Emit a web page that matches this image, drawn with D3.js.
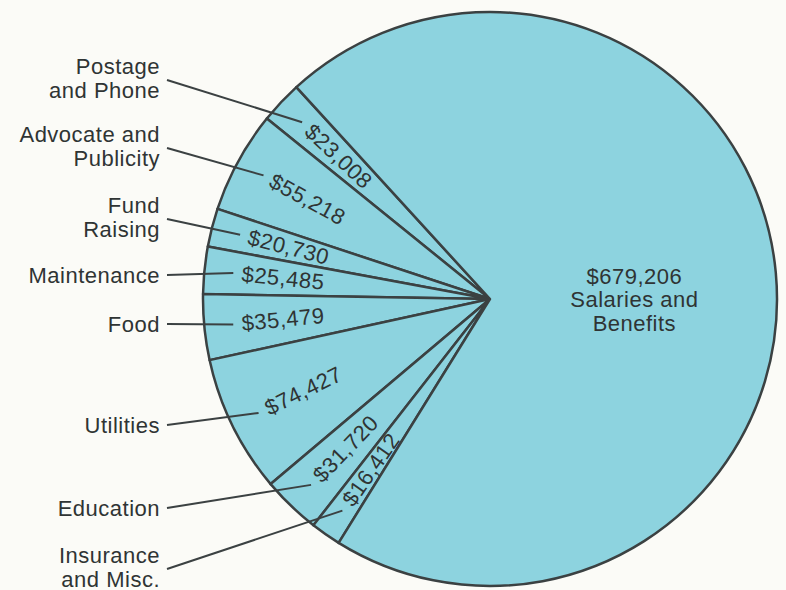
<!DOCTYPE html>
<html>
<head>
<meta charset="utf-8">
<script src="https://cdn.jsdelivr.net/npm/d3@7"></script>
<style>
  body { margin: 0; background: #fbfbf7; }
  svg text { font-family: "Liberation Sans", Arial, sans-serif; fill: #2f3434; letter-spacing: 0.5px; }
</style>
</head>
<body>
<svg id="chart" width="786" height="590"></svg>
<script>
// Budget data, listed counterclockwise from the top of the small slices
const categories = [
  ["Postage", "and Phone"],
  ["Advocate and", "Publicity"],
  ["Fund", "Raising"],
  ["Maintenance"],
  ["Food"],
  ["Utilities"],
  ["Education"],
  ["Insurance", "and Misc."],
  ["Salaries and", "Benefits"]
];
const values = [23008, 55218, 20730, 25485, 35479, 74427, 31720, 16412, 679206];

// where the outside labels sit (leader start y), one per small slice
const labelY = [80, 148, 219, 275, 324, 425, 508, 569];

const width = 786, height = 590;
const cx = 490, cy = 299, radius = 287;
const fmt = d3.format("$,");

const svg = d3.select("#chart");
const g = svg.append("g").attr("transform", `translate(${cx},${cy})`);

// small slices are grouped on the left, centred a little below 9 o'clock
const smallTotal = d3.sum(values.slice(0, 8));
const span = smallTotal / d3.sum(values) * 2 * Math.PI;
const groupMid = -95.3 * Math.PI / 180;
const start = groupMid + span / 2;

const pie = d3.pie().sort(null)
  .startAngle(start)
  .endAngle(start - 2 * Math.PI);
const arcs = pie(values);

const arc = d3.arc().innerRadius(0).outerRadius(radius);
const labelArc = d3.arc().innerRadius(208).outerRadius(208);
const leaderArc = d3.arc().innerRadius(258).outerRadius(258);
const bigArc = d3.arc().innerRadius(145).outerRadius(145);

g.selectAll("path.slice")
  .data(arcs)
  .enter()
  .append("path")
    .attr("class", "slice")
    .attr("d", arc)
    .attr("fill", "#8dd3df")
    .attr("stroke", "#3b4142")
    .attr("stroke-width", 2.5)
    .attr("stroke-linejoin", "round");

const small = arcs.slice(0, 8);

// values inside the small slices, turned along the radius
g.selectAll("text.value")
  .data(small)
  .enter()
  .append("text")
    .attr("class", "value")
    .attr("text-anchor", "middle")
    .attr("dominant-baseline", "central")
    .attr("font-size", 22)
    .attr("transform", d => {
      const [x, y] = labelArc.centroid(d);
      const a = (d.startAngle + d.endAngle) / 2 * 180 / Math.PI;
      return `translate(${x},${y}) rotate(${90 + a})`;
    })
    .text(d => fmt(d.value));

// category names on the left with leader lines
const labelX = 160;
small.forEach((d, i) => {
  const y = labelY[i];
  const lines = categories[i];
  const [ex, ey] = leaderArc.centroid(d);

  svg.append("line")
    .attr("x1", labelX + 7).attr("y1", y)
    .attr("x2", cx + ex).attr("y2", cy + ey)
    .attr("stroke", "#3b4142")
    .attr("stroke-width", 2);

  const t = svg.append("text")
    .attr("text-anchor", "end")
    .attr("font-size", 22);
  lines.forEach((line, j) => {
    const base = lines.length === 1 ? y + 8 : y - 6 + j * 23.5;
    t.append("tspan").attr("x", labelX).attr("y", base).text(line);
  });
});

// the big slice
const big = arcs[8];
const [bx, by] = bigArc.centroid(big);
const bigText = g.append("text")
  .attr("text-anchor", "middle")
  .attr("font-size", 22);
[fmt(big.value)].concat(categories[8]).forEach((line, j) => {
  bigText.append("tspan").attr("x", bx).attr("y", by - 2 + j * 23.5).text(line);
});
</script>
</body>
</html>
